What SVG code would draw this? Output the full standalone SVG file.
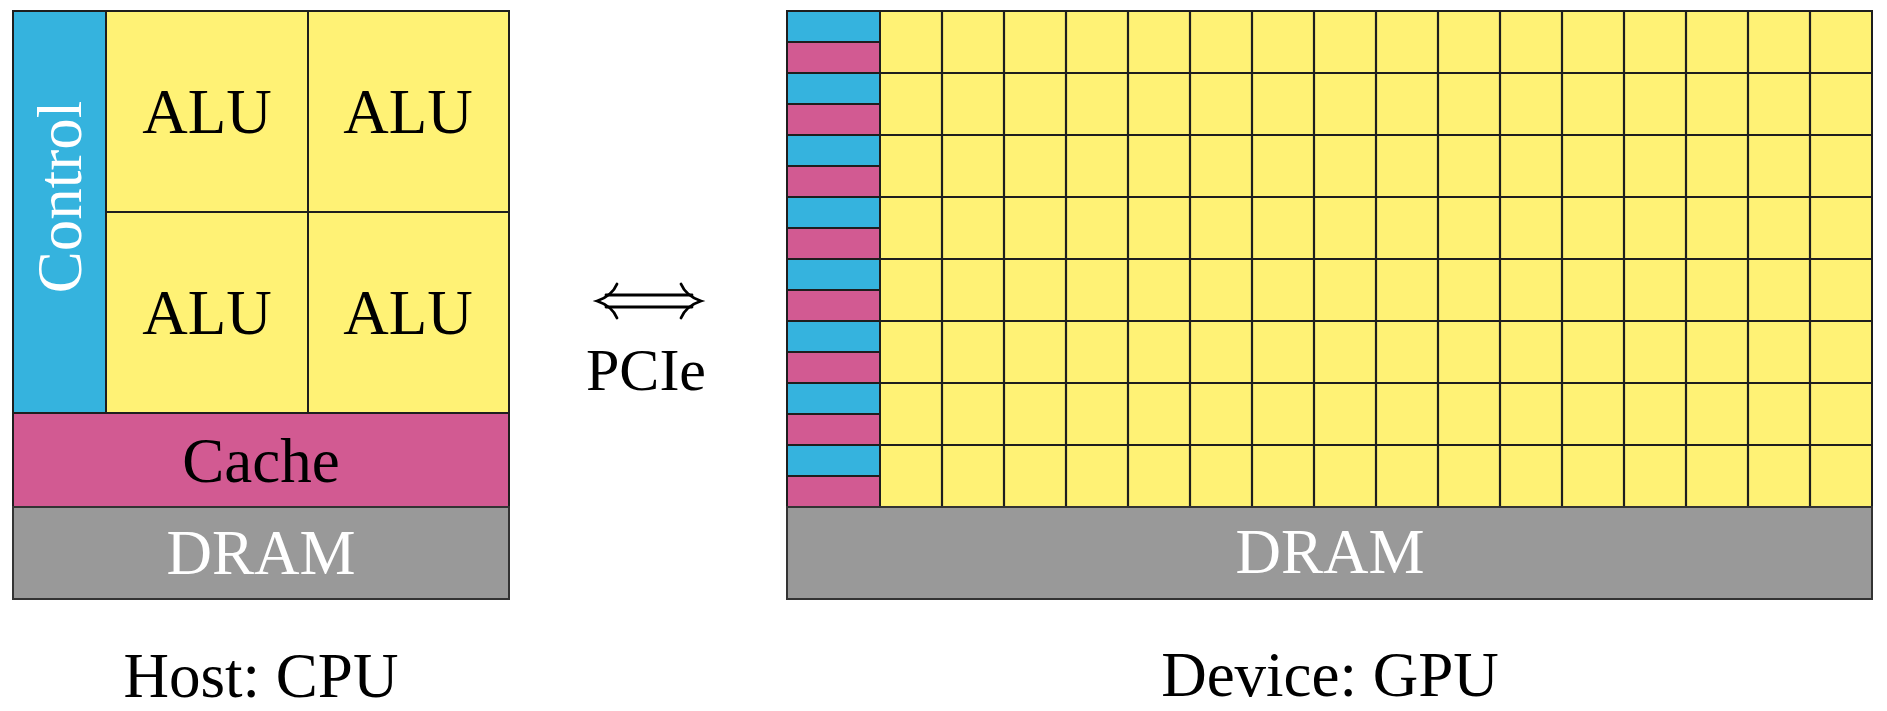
<svg xmlns="http://www.w3.org/2000/svg" width="1887" height="711" viewBox="0 0 1887 711">
<style>
.b{fill:#35B3DE;stroke:#1e1e1e;stroke-width:2}
.m{fill:#D25A92;stroke:#1e1e1e;stroke-width:2}
.y{fill:#FFF275;stroke:#1e1e1e;stroke-width:2}
.g{fill:#999999;stroke:#333333;stroke-width:2}
.gl{stroke:#1e1e1e;stroke-width:2.2;fill:none}
.t{font-family:"Liberation Serif","Times New Roman",serif;font-size:63px;text-anchor:middle;fill:#000}
.w{fill:#fff}
</style>
<rect width="1887" height="711" fill="#fff"/>
<g id="cpu">
  <g id="cpu-control"><rect class="b" x="13" y="11" width="93" height="402"/>
    <text class="t w" transform="translate(81,197) rotate(-90)">Control</text></g>
  <g id="cpu-alu1"><rect class="y" x="106" y="11" width="202" height="201"/><text class="t" x="207" y="133">ALU</text></g>
  <g id="cpu-alu2"><rect class="y" x="308" y="11" width="201" height="201"/><text class="t" x="408" y="133">ALU</text></g>
  <g id="cpu-alu3"><rect class="y" x="106" y="212" width="202" height="201"/><text class="t" x="207" y="334">ALU</text></g>
  <g id="cpu-alu4"><rect class="y" x="308" y="212" width="201" height="201"/><text class="t" x="408" y="334">ALU</text></g>
  <g id="cpu-cache"><rect class="m" x="13" y="413" width="496" height="94"/><text class="t" x="261" y="482">Cache</text></g>
  <g id="cpu-dram"><rect class="g" x="13" y="507" width="496" height="92"/><text class="t w" x="261" y="574">DRAM</text></g>
  <text id="cpu-label" class="t" x="261" y="697">Host: CPU</text>
</g>
<g id="gpu">
  <g id="gpu-stripes">
    <rect class="b" x="787" y="11" width="93" height="31"/><rect class="m" x="787" y="42" width="93" height="31"/>
    <rect class="b" x="787" y="73" width="93" height="31"/><rect class="m" x="787" y="104" width="93" height="31"/>
    <rect class="b" x="787" y="135" width="93" height="31"/><rect class="m" x="787" y="166" width="93" height="31"/>
    <rect class="b" x="787" y="197" width="93" height="31"/><rect class="m" x="787" y="228" width="93" height="31"/>
    <rect class="b" x="787" y="259" width="93" height="31"/><rect class="m" x="787" y="290" width="93" height="31"/>
    <rect class="b" x="787" y="321" width="93" height="31"/><rect class="m" x="787" y="352" width="93" height="31"/>
    <rect class="b" x="787" y="383" width="93" height="31"/><rect class="m" x="787" y="414" width="93" height="31"/>
    <rect class="b" x="787" y="445" width="93" height="31"/><rect class="m" x="787" y="476" width="93" height="31"/>
  </g>
  <g id="gpu-alus">
    <rect class="y" x="880" y="11" width="992" height="496"/>
    <path class="gl" d="M942 11V507M1004 11V507M1066 11V507M1128 11V507M1190 11V507M1252 11V507M1314 11V507M1376 11V507M1438 11V507M1500 11V507M1562 11V507M1624 11V507M1686 11V507M1748 11V507M1810 11V507"/>
    <path class="gl" d="M880 73H1872M880 135H1872M880 197H1872M880 259H1872M880 321H1872M880 383H1872M880 445H1872"/>
  </g>
  <g id="gpu-dram"><rect class="g" x="787" y="507" width="1085" height="92"/><text class="t w" x="1330" y="573">DRAM</text></g>
  <text id="gpu-label" class="t" x="1330" y="696">Device: GPU</text>
</g>
<g id="connectors">
  <g id="pcie-arrow" fill="none" stroke="#000" stroke-width="2.8" stroke-linecap="round">
    <path d="M606 295H692M606 307H692"/>
    <path d="M617 284Q612 296 597 301Q612 306 617 318"/>
    <path d="M681 284Q686 296 701 301Q686 306 681 318"/>
  </g>
  <text id="pcie-label" class="t" x="646" y="390" style="font-size:60px">PCIe</text>
</g>
</svg>
